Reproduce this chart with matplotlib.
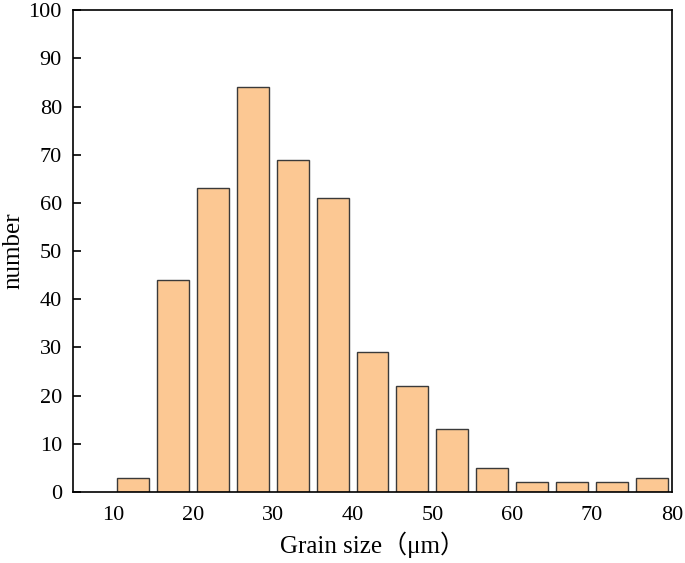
import matplotlib
matplotlib.use('Agg')
import matplotlib.pyplot as plt

# grain size histogram, bins of 5 um
bin_left = [10, 15, 20, 25, 30, 35, 40, 45, 50, 55, 60, 65, 70, 75]
counts = [3, 44, 63, 84, 69, 61, 29, 22, 13, 5, 2, 2, 2, 3]
x_ticks = [10, 20, 30, 40, 50, 60, 70, 80]
y_ticks = [0, 10, 20, 30, 40, 50, 60, 70, 80, 90, 100]

plt.rcParams['font.family'] = ['Liberation Serif', 'Noto Sans CJK SC']

fig = plt.figure(figsize=(6.85, 5.63), dpi=100)
ax = fig.add_axes([0.1066, 0.126, 0.8744, 0.856])

centers = [b + 2.5 for b in bin_left]
ax.bar(centers, counts, width=4, color='#FCC893', edgecolor='#3a3a3a', linewidth=1.0)

ax.set_xlim(5, 80)
ax.set_ylim(0, 100)
ax.set_xticks(x_ticks)
ax.set_yticks(y_ticks)
ax.tick_params(axis='x', length=0, pad=10, labelsize=16)
ax.tick_params(axis='y', direction='in', length=6, width=1.2, pad=8, labelsize=16)

for s in ax.spines.values():
    s.set_linewidth(1.2)

ax.set_xlabel('Grain size（μm）', fontsize=18, labelpad=5)
ax.set_ylabel('number', fontsize=18, labelpad=3)

fig.savefig('out.png', dpi=100)
